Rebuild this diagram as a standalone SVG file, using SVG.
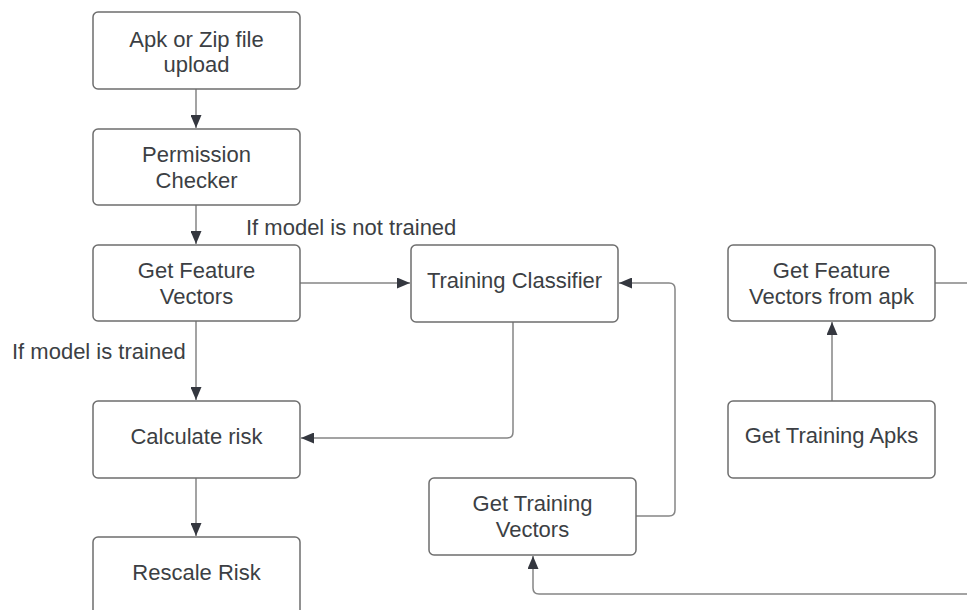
<svg xmlns="http://www.w3.org/2000/svg" width="967" height="610" viewBox="0 0 967 610">
  <defs>
    <style>
      .box { fill: #ffffff; stroke: #6e6e6e; stroke-width: 1.5; }
      .lbl { font-family: "Liberation Sans", Arial, sans-serif; font-size: 22px; fill: #3c3f44; text-anchor: middle; }
      .note { font-family: "Liberation Sans", Arial, sans-serif; font-size: 22px; fill: #3c3f44; }
      .wire { fill: none; stroke: #858585; stroke-width: 1.5; }
    </style>
    <marker id="head" viewBox="0 0 13 11" refX="13" refY="5.5" markerWidth="13" markerHeight="11" markerUnits="userSpaceOnUse" orient="auto">
      <path d="M0,0 L13,5.5 L0,11 Z" fill="#34373f"/>
    </marker>
  </defs>
  <rect width="967" height="610" fill="#ffffff"/>

  <!-- connectors -->
  <g id="connectors">
    <path class="wire" d="M196,89 V128" marker-end="url(#head)"/>
    <path class="wire" d="M196,205 V244" marker-end="url(#head)"/>
    <path class="wire" d="M300,283 H410" marker-end="url(#head)"/>
    <path class="wire" d="M196,321 V400" marker-end="url(#head)"/>
    <path class="wire" d="M196,478 V536" marker-end="url(#head)"/>
    <path class="wire" d="M513,322 V432 Q513,438 507,438 H301" marker-end="url(#head)"/>
    <path class="wire" d="M636,516 H669 Q675,516 675,510 V289 Q675,283 669,283 H619" marker-end="url(#head)"/>
    <path class="wire" d="M967,594 H539 Q533,594 533,588 V556" marker-end="url(#head)"/>
    <path class="wire" d="M832,401 V322" marker-end="url(#head)"/>
    <path class="wire" d="M935,283 H967"/>
    <text class="note" x="246" y="235">If model is not trained</text>
    <text class="note" x="12" y="359">If model is trained</text>
  </g>

  <!-- nodes -->
  <g id="upload">
    <rect class="box" x="93" y="12" width="207" height="77" rx="5"/>
    <text class="lbl" x="196.5" y="46.5">Apk or Zip file</text>
    <text class="lbl" x="196.5" y="72">upload</text>
  </g>
  <g id="permission-checker">
    <rect class="box" x="93" y="129" width="207" height="76" rx="5"/>
    <text class="lbl" x="196.5" y="162">Permission</text>
    <text class="lbl" x="196.5" y="188">Checker</text>
  </g>
  <g id="feature-vectors">
    <rect class="box" x="93" y="245" width="207" height="76" rx="5"/>
    <text class="lbl" x="196.5" y="278">Get Feature</text>
    <text class="lbl" x="196.5" y="304">Vectors</text>
  </g>
  <g id="training-classifier">
    <rect class="box" x="411" y="245" width="207" height="77" rx="5"/>
    <text class="lbl" x="514.5" y="288">Training Classifier</text>
  </g>
  <g id="calculate-risk">
    <rect class="box" x="93" y="401" width="207" height="77" rx="5"/>
    <text class="lbl" x="196.5" y="444">Calculate risk</text>
  </g>
  <g id="rescale-risk">
    <rect class="box" x="93" y="537" width="207" height="78" rx="5"/>
    <text class="lbl" x="196.5" y="580">Rescale Risk</text>
  </g>
  <g id="training-vectors">
    <rect class="box" x="429" y="478" width="207" height="77" rx="5"/>
    <text class="lbl" x="532.5" y="510.5">Get Training</text>
    <text class="lbl" x="532.5" y="537">Vectors</text>
  </g>
  <g id="apk-feature-vectors">
    <rect class="box" x="728" y="245" width="207" height="76" rx="5"/>
    <text class="lbl" x="831.5" y="277.5">Get Feature</text>
    <text class="lbl" x="831.5" y="304">Vectors from apk</text>
  </g>
  <g id="training-apks">
    <rect class="box" x="728" y="401" width="207" height="77" rx="5"/>
    <text class="lbl" x="831.5" y="443">Get Training Apks</text>
  </g>
</svg>
